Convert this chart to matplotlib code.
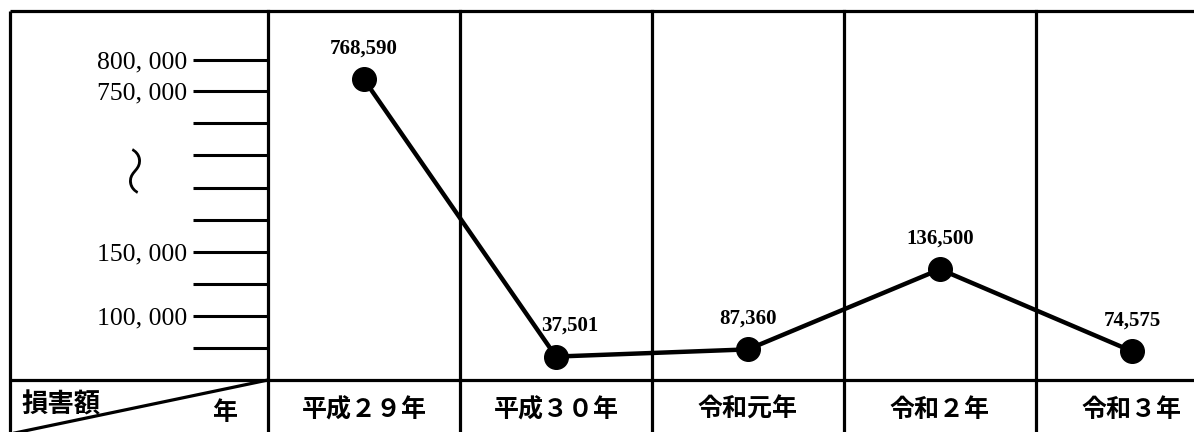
import numpy as np
import matplotlib.pyplot as plt

# datos del gráfico
anos = ["平成２９年", "平成３０年", "令和元年", "令和２年", "令和３年"]
danos = [768590, 37501, 87360, 136500, 74575]
marcas_eje = [800000, 750000, 150000, 100000]

# escala partida (valor -> altura en px sobre la fila inferior)
VALS = [-1_000_000, 0, 90_000, 100_000, 150_000, 750_000, 800_000, 2_000_000]
ALTS = [-126.4, 18, 31, 64, 128, 289, 320, 1064]


def fwd(v):
    return np.interp(v, VALS, ALTS)


def inv(h):
    return np.interp(h, ALTS, VALS)


CJK = ["Noto Sans CJK JP", "DejaVu Sans"]
W, H = 1194, 432
fig = plt.figure(figsize=(W / 100, H / 100), dpi=100)

# capa de fondo para el marco de la tabla (coordenadas en px)
bg = fig.add_axes([0, 0, 1, 1])
bg.set_xlim(0, W)
bg.set_ylim(H, 0)
bg.axis("off")
lw = 2.3
bg.plot([10, W], [11, 11], color="k", lw=lw, solid_capstyle="butt")
bg.plot([10, W], [380, 380], color="k", lw=lw, solid_capstyle="butt")
bg.plot([10, 10], [11, H], color="k", lw=lw, solid_capstyle="butt")
bg.plot([268, 10], [380, 434], color="k", lw=lw)
bg.text(61, 405, "損害額", fontsize=19, fontweight="bold", ha="center", va="center", family=CJK)
bg.text(225, 413, "年", fontsize=18, fontweight="bold", ha="center", va="center", family=CJK)
bg.text(139, 168, "〜", fontsize=36, rotation=90, ha="center", va="center",
        fontweight="light", family=CJK)

# eje del gráfico
ax = fig.add_axes([268 / W, (H - 380) / H, (1228 - 268) / W, 369 / H])
ax.patch.set_alpha(0)
ax.set_yscale("function", functions=(fwd, inv))
ax.set_ylim(inv(0), inv(369))
ax.set_xlim(0, len(anos))
for s in ax.spines.values():
    s.set_visible(False)

# marcas del eje y
paso = fwd(125_000) - fwd(100_000)
extra = list(inv(np.linspace(fwd(750_000), fwd(150_000), 6)[1:-1]))
extra += [125_000, inv(fwd(100_000) - paso)]
ticks = marcas_eje + extra
etiquetas = [f"{v:,}".replace(",", ", ") for v in marcas_eje] + [""] * len(extra)
ax.set_yticks(ticks)
ax.set_yticklabels(etiquetas, fontsize=18.5, family="Liberation Serif")
ax.yaxis.set_minor_locator(plt.NullLocator())
ax.tick_params(axis="y", direction="out", length=54, width=2.2, pad=4)
ax.set_xticks([])

# líneas de columnas
for i in range(len(anos)):
    ax.axvline(i, ymin=-0.2, ymax=1, color="k", lw=lw, clip_on=False)

x = np.arange(len(anos)) + 0.5
ax.plot(x, danos, color="k", lw=3.2, marker="o", markersize=17, zorder=3)

for i, (xi, v) in enumerate(zip(x, danos)):
    dx = 10 if i == 1 else 0  # separar la etiqueta de la línea
    ax.annotate(f"{v:,}", (xi, v), xytext=(dx, 22), textcoords="offset points",
                ha="center", va="center", fontsize=15, fontweight="bold",
                family="Liberation Serif")

tr = ax.get_xaxis_transform()
for xi, a in zip(x, anos):
    ax.text(xi, -30 / 369, a, transform=tr, ha="center", va="center", fontsize=18,
            fontweight="bold", family=CJK)

plt.savefig("out.png", dpi=100)
